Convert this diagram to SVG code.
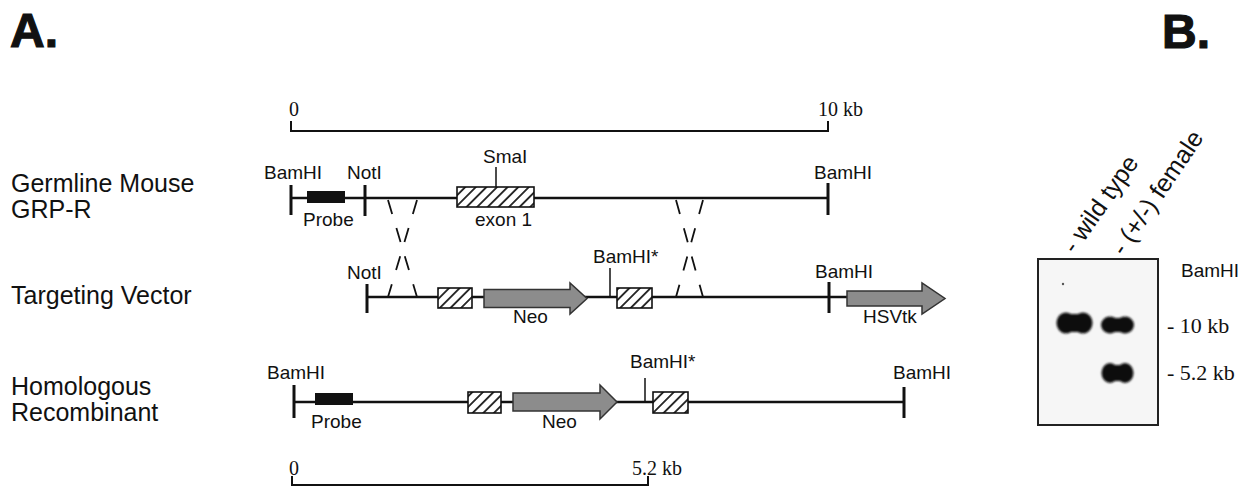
<svg xmlns="http://www.w3.org/2000/svg" width="1242" height="487" viewBox="0 0 1242 487">
<style>
text{font-family:"Liberation Sans",Arial,sans-serif;fill:#111}
.lbl{font-size:19px}
.row{font-size:25px}
.big{font-size:48px;font-weight:bold;stroke:#111;stroke-width:1.2}
.num{font-family:"Liberation Serif","Times New Roman",serif;font-size:20px}
.gnum{font-family:"Liberation Serif","Times New Roman",serif;font-size:22px}
.dna{stroke:#111;stroke-width:2.6;fill:none}
.tick{stroke:#111;stroke-width:3;fill:none}
.thin{stroke:#111;stroke-width:1.5;fill:none}
.scale{stroke:#111;stroke-width:2;fill:none}
.hatch{fill:url(#hatch);stroke:#111;stroke-width:1.6}
.probe{fill:#111}
.arrow{fill:#8c8c8c;stroke:#333;stroke-width:1.5}
.xover{stroke:#111;stroke-width:1.8;fill:none;stroke-dasharray:14.5 14.8}
.band{fill:#111;filter:url(#blur)}
</style>
<defs>
<pattern id="hatch" patternUnits="userSpaceOnUse" width="7.5" height="7.5" patternTransform="rotate(45)">
<rect width="7.5" height="7.5" fill="#fff"/>
<line x1="3.75" y1="0" x2="3.75" y2="7.5" stroke="#111" stroke-width="1.7"/>
</pattern>
<filter id="blur" x="-20%" y="-30%" width="140%" height="160%"><feGaussianBlur stdDeviation="1.1"/></filter>
</defs>
<rect width="1242" height="487" fill="#fff"/>

<text class="big" x="10" y="47">A.</text>
<text class="big" x="1162" y="48">B.</text>

<g id="row-labels">
<text class="row" x="11" y="192">Germline Mouse</text>
<text class="row" x="11" y="218">GRP-R</text>
<text class="row" x="11" y="304">Targeting Vector</text>
<text class="row" x="11" y="395">Homologous</text>
<text class="row" x="11" y="421">Recombinant</text>
</g>

<g id="scale-10kb">
<path class="scale" d="M291,121 V131 H828 V121"/>
<text class="num" x="289" y="116">0</text>
<text class="num" x="818" y="116">10 kb</text>
</g>

<g id="germline">
<line class="dna" x1="291" y1="198" x2="828" y2="198"/>
<line class="tick" x1="291" y1="185" x2="291" y2="215"/>
<line class="tick" x1="365" y1="185" x2="365" y2="216"/>
<line class="tick" x1="828" y1="183" x2="828" y2="215"/>
<rect class="probe" x="307" y="191" width="38" height="12"/>
<line class="thin" x1="496" y1="167" x2="496" y2="187"/>
<rect class="hatch" x="457" y="187" width="77" height="20"/>
<text class="lbl" x="264" y="179">BamHI</text>
<text class="lbl" x="347" y="179">NotI</text>
<text class="lbl" x="483" y="163">SmaI</text>
<text class="lbl" x="814" y="179">BamHI</text>
<text class="lbl" x="303" y="226">Probe</text>
<text class="lbl" x="475" y="226">exon 1</text>
</g>

<g id="connectors">
<line class="xover" x1="388" y1="200" x2="417" y2="297"/>
<line class="xover" x1="417" y1="200" x2="388" y2="297"/>
<line class="xover" x1="676" y1="200" x2="703" y2="297"/>
<line class="xover" x1="703" y1="200" x2="676" y2="297"/>
</g>

<g id="targeting-vector">
<line class="dna" x1="367" y1="297" x2="848" y2="297"/>
<line class="tick" x1="367" y1="284" x2="367" y2="313"/>
<line class="tick" x1="829" y1="282" x2="829" y2="313"/>
<rect class="hatch" x="438" y="288" width="34" height="20"/>
<path class="arrow" d="M484,289.5 H570 V283 L587,298.5 L570,314 V307.5 H484 Z"/>
<line class="thin" x1="610" y1="268" x2="610" y2="297"/>
<rect class="hatch" x="617" y="288" width="35" height="20"/>
<path class="arrow" d="M847,291 H922 V283 L945,298.5 L922,314 V306 H847 Z"/>
<text class="lbl" x="347" y="279">NotI</text>
<text class="lbl" x="593" y="263">BamHI*</text>
<text class="lbl" x="815" y="278">BamHI</text>
<text class="lbl" x="513" y="323">Neo</text>
<text class="lbl" x="863" y="323">HSVtk</text>
</g>

<g id="homologous-recombinant">
<line class="dna" x1="294" y1="402" x2="904" y2="402"/>
<line class="tick" x1="294" y1="385" x2="294" y2="418"/>
<line class="tick" x1="904" y1="387" x2="904" y2="418"/>
<rect class="probe" x="315" y="393" width="38" height="12"/>
<rect class="hatch" x="468" y="392" width="33" height="21"/>
<path class="arrow" d="M513,393 H600 V385 L617,402 L600,419 V411 H513 Z"/>
<line class="thin" x1="645" y1="378" x2="645" y2="402"/>
<rect class="hatch" x="653" y="392" width="35" height="21"/>
<text class="lbl" x="267" y="379">BamHI</text>
<text class="lbl" x="630" y="368">BamHI*</text>
<text class="lbl" x="893" y="379">BamHI</text>
<text class="lbl" x="311" y="428">Probe</text>
<text class="lbl" x="542" y="428">Neo</text>
</g>

<g id="scale-5kb">
<path class="scale" d="M292,476 V485 H648 V476"/>
<text class="num" x="289" y="475">0</text>
<text class="num" x="632" y="475">5.2 kb</text>
</g>

<g id="gel">
<rect x="1038" y="259" width="120" height="166" fill="#f6f6f6" stroke="#222" stroke-width="2"/>
<circle cx="1063" cy="284" r="1.2" fill="#555"/>
<g class="band">
<ellipse cx="1066" cy="323" rx="9.5" ry="10.5"/>
<ellipse cx="1083" cy="323" rx="9.5" ry="10.5"/>
<rect x="1063" y="314" width="24" height="18"/>
</g>
<g class="band">
<ellipse cx="1110" cy="325" rx="9" ry="8.5"/>
<ellipse cx="1125" cy="325" rx="9" ry="8.5"/>
<rect x="1107" y="318" width="21" height="14"/>
</g>
<g class="band">
<ellipse cx="1110" cy="373" rx="8.5" ry="10"/>
<ellipse cx="1125" cy="373" rx="8.5" ry="10"/>
<rect x="1107" y="365" width="21" height="16"/>
</g>
<text class="lbl" x="1181" y="277">BamHI</text>
<text class="gnum" x="1167" y="333">- 10 kb</text>
<text class="gnum" x="1167" y="380">- 5.2 kb</text>
<text class="row" transform="translate(1075,255) rotate(-55)">- wild type</text>
<text class="row" transform="translate(1124,257) rotate(-56)">- (+/-) female</text>
</g>
</svg>
